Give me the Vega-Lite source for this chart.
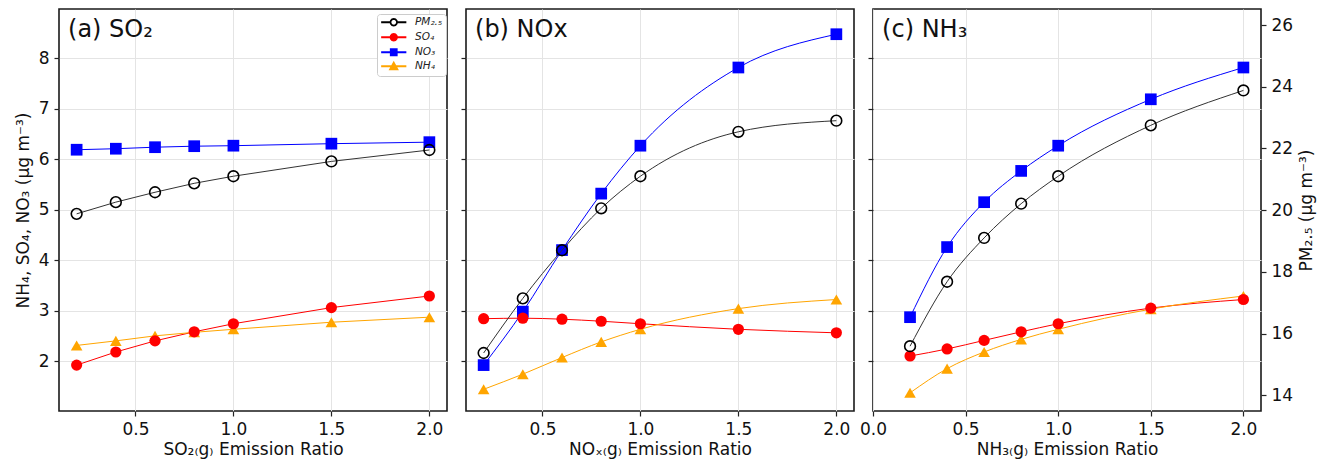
{
  "$schema": "https://vega.github.io/schema/vega-lite/v6.json",
  "autosize": {"type": "pad"},
  "padding": {"left": 13, "top": 8, "right": 2, "bottom": 2},
  "config": {
    "font": "DejaVu Sans",
    "view": {"stroke": "#1a1a1a", "strokeWidth": 1.6},
    "axis": {
      "labelFont": "DejaVu Sans", "labelFontSize": 17, "labelColor": "#111111",
      "titleFont": "DejaVu Sans", "titleFontSize": 17, "titleFontWeight": "normal", "titleColor": "#111111",
      "tickColor": "#222222", "tickSize": 5, "tickWidth": 1.2, "domain": false,
      "gridColor": "#e4e4e4", "gridWidth": 1, "labelPadding": 5, "labelFlush": false, "labelOverlap": false
    },
    "axisLeft": {"titlePadding": 6}
  },
  "datasets": {
    "rows": [
      {"case": "SO2", "ratio": 0.2, "species": "PM2.5", "value": 19.88},
      {"case": "SO2", "ratio": 0.4, "species": "PM2.5", "value": 20.26},
      {"case": "SO2", "ratio": 0.6, "species": "PM2.5", "value": 20.58},
      {"case": "SO2", "ratio": 0.8, "species": "PM2.5", "value": 20.87},
      {"case": "SO2", "ratio": 1.0, "species": "PM2.5", "value": 21.10},
      {"case": "SO2", "ratio": 1.5, "species": "PM2.5", "value": 21.58},
      {"case": "SO2", "ratio": 2.0, "species": "PM2.5", "value": 21.95},
      {"case": "SO2", "ratio": 0.2, "species": "SO4", "value": 1.92},
      {"case": "SO2", "ratio": 0.4, "species": "SO4", "value": 2.18},
      {"case": "SO2", "ratio": 0.6, "species": "SO4", "value": 2.40},
      {"case": "SO2", "ratio": 0.8, "species": "SO4", "value": 2.58},
      {"case": "SO2", "ratio": 1.0, "species": "SO4", "value": 2.74},
      {"case": "SO2", "ratio": 1.5, "species": "SO4", "value": 3.06},
      {"case": "SO2", "ratio": 2.0, "species": "SO4", "value": 3.29},
      {"case": "SO2", "ratio": 0.2, "species": "NO3", "value": 6.19},
      {"case": "SO2", "ratio": 0.4, "species": "NO3", "value": 6.21},
      {"case": "SO2", "ratio": 0.6, "species": "NO3", "value": 6.24},
      {"case": "SO2", "ratio": 0.8, "species": "NO3", "value": 6.26},
      {"case": "SO2", "ratio": 1.0, "species": "NO3", "value": 6.27},
      {"case": "SO2", "ratio": 1.5, "species": "NO3", "value": 6.31},
      {"case": "SO2", "ratio": 2.0, "species": "NO3", "value": 6.34},
      {"case": "SO2", "ratio": 0.2, "species": "NH4", "value": 2.31},
      {"case": "SO2", "ratio": 0.4, "species": "NH4", "value": 2.40},
      {"case": "SO2", "ratio": 0.6, "species": "NH4", "value": 2.50},
      {"case": "SO2", "ratio": 0.8, "species": "NH4", "value": 2.57},
      {"case": "SO2", "ratio": 1.0, "species": "NH4", "value": 2.63},
      {"case": "SO2", "ratio": 1.5, "species": "NH4", "value": 2.77},
      {"case": "SO2", "ratio": 2.0, "species": "NH4", "value": 2.87},
      {"case": "NOx", "ratio": 0.2, "species": "PM2.5", "value": 15.37},
      {"case": "NOx", "ratio": 0.4, "species": "PM2.5", "value": 17.14},
      {"case": "NOx", "ratio": 0.6, "species": "PM2.5", "value": 18.70},
      {"case": "NOx", "ratio": 0.8, "species": "PM2.5", "value": 20.06},
      {"case": "NOx", "ratio": 1.0, "species": "PM2.5", "value": 21.10},
      {"case": "NOx", "ratio": 1.5, "species": "PM2.5", "value": 22.54},
      {"case": "NOx", "ratio": 2.0, "species": "PM2.5", "value": 22.90},
      {"case": "NOx", "ratio": 0.2, "species": "SO4", "value": 2.84},
      {"case": "NOx", "ratio": 0.4, "species": "SO4", "value": 2.85},
      {"case": "NOx", "ratio": 0.6, "species": "SO4", "value": 2.83},
      {"case": "NOx", "ratio": 0.8, "species": "SO4", "value": 2.79},
      {"case": "NOx", "ratio": 1.0, "species": "SO4", "value": 2.74},
      {"case": "NOx", "ratio": 1.5, "species": "SO4", "value": 2.63},
      {"case": "NOx", "ratio": 2.0, "species": "SO4", "value": 2.56},
      {"case": "NOx", "ratio": 0.2, "species": "NO3", "value": 1.92},
      {"case": "NOx", "ratio": 0.4, "species": "NO3", "value": 2.98},
      {"case": "NOx", "ratio": 0.6, "species": "NO3", "value": 4.20},
      {"case": "NOx", "ratio": 0.8, "species": "NO3", "value": 5.32},
      {"case": "NOx", "ratio": 1.0, "species": "NO3", "value": 6.27},
      {"case": "NOx", "ratio": 1.5, "species": "NO3", "value": 7.82},
      {"case": "NOx", "ratio": 2.0, "species": "NO3", "value": 8.48},
      {"case": "NOx", "ratio": 0.2, "species": "NH4", "value": 1.44},
      {"case": "NOx", "ratio": 0.4, "species": "NH4", "value": 1.74},
      {"case": "NOx", "ratio": 0.6, "species": "NH4", "value": 2.07},
      {"case": "NOx", "ratio": 0.8, "species": "NH4", "value": 2.38},
      {"case": "NOx", "ratio": 1.0, "species": "NH4", "value": 2.63},
      {"case": "NOx", "ratio": 1.5, "species": "NH4", "value": 3.04},
      {"case": "NOx", "ratio": 2.0, "species": "NH4", "value": 3.22},
      {"case": "NH3", "ratio": 0.2, "species": "PM2.5", "value": 15.59},
      {"case": "NH3", "ratio": 0.4, "species": "PM2.5", "value": 17.68},
      {"case": "NH3", "ratio": 0.6, "species": "PM2.5", "value": 19.10},
      {"case": "NH3", "ratio": 0.8, "species": "PM2.5", "value": 20.21},
      {"case": "NH3", "ratio": 1.0, "species": "PM2.5", "value": 21.10},
      {"case": "NH3", "ratio": 1.5, "species": "PM2.5", "value": 22.75},
      {"case": "NH3", "ratio": 2.0, "species": "PM2.5", "value": 23.88},
      {"case": "NH3", "ratio": 0.2, "species": "SO4", "value": 2.10},
      {"case": "NH3", "ratio": 0.4, "species": "SO4", "value": 2.24},
      {"case": "NH3", "ratio": 0.6, "species": "SO4", "value": 2.41},
      {"case": "NH3", "ratio": 0.8, "species": "SO4", "value": 2.58},
      {"case": "NH3", "ratio": 1.0, "species": "SO4", "value": 2.74},
      {"case": "NH3", "ratio": 1.5, "species": "SO4", "value": 3.05},
      {"case": "NH3", "ratio": 2.0, "species": "SO4", "value": 3.22},
      {"case": "NH3", "ratio": 0.2, "species": "NO3", "value": 2.87},
      {"case": "NH3", "ratio": 0.4, "species": "NO3", "value": 4.26},
      {"case": "NH3", "ratio": 0.6, "species": "NO3", "value": 5.15},
      {"case": "NH3", "ratio": 0.8, "species": "NO3", "value": 5.77},
      {"case": "NH3", "ratio": 1.0, "species": "NO3", "value": 6.27},
      {"case": "NH3", "ratio": 1.5, "species": "NO3", "value": 7.19},
      {"case": "NH3", "ratio": 2.0, "species": "NO3", "value": 7.82},
      {"case": "NH3", "ratio": 0.2, "species": "NH4", "value": 1.37},
      {"case": "NH3", "ratio": 0.4, "species": "NH4", "value": 1.85},
      {"case": "NH3", "ratio": 0.6, "species": "NH4", "value": 2.18},
      {"case": "NH3", "ratio": 0.8, "species": "NH4", "value": 2.43},
      {"case": "NH3", "ratio": 1.0, "species": "NH4", "value": 2.63},
      {"case": "NH3", "ratio": 1.5, "species": "NH4", "value": 3.03},
      {"case": "NH3", "ratio": 2.0, "species": "NH4", "value": 3.29}
    ]
  },
  "data": {"name": "rows"},
  "bounds": "flush",
  "spacing": 19,
  "resolve": {
    "scale": {"color": "independent", "shape": "independent", "fill": "independent", "stroke": "independent"},
    "legend": {"color": "independent", "shape": "independent", "fill": "independent", "stroke": "independent"}
  },
  "hconcat": [
    {
      "width": 388, "height": 402,
      "transform": [{"filter": "datum.case == 'SO2'"}],
      "layer": [
        {
          "layer": [
            {
              "mark": {"type": "line", "strokeWidth": 1, "interpolate": "linear"},
              "transform": [{"filter": "datum.species != 'PM2.5'"}],
              "encoding": {
                "x": {"field": "ratio", "type": "quantitative", "scale": {"domain": [0.11, 2.09], "nice": false, "zero": false}, "axis": {"values": [0.5, 1, 1.5, 2], "format": ".1f", "title": "SO₂₍g₎ Emission Ratio", "grid": true}},
                "y": {"field": "value", "type": "quantitative", "scale": {"domain": [1.01, 8.98], "nice": false, "zero": false}, "axis": {"orient": "left", "values": [2, 3, 4, 5, 6, 7, 8], "title": "NH₄, SO₄, NO₃ (μg m⁻³)", "grid": true}},
                "color": {"field": "species", "type": "nominal", "scale": {"domain": ["SO4", "NO3", "NH4", "PM2.5"], "range": ["#ff0000", "#0000ff", "#ffa500", "#333333"]}, "legend": null}
              }
            },
            {
              "mark": {"type": "point", "shape": "triangle-up", "filled": true, "color": "#ffa500", "size": 135, "opacity": 1},
              "transform": [{"filter": "datum.species == 'NH4'"}],
              "encoding": {
                "x": {"field": "ratio", "type": "quantitative", "scale": {"domain": [0.11, 2.09], "nice": false, "zero": false}, "axis": {"values": [0.5, 1, 1.5, 2], "format": ".1f", "title": "SO₂₍g₎ Emission Ratio", "grid": true}},
                "y": {"field": "value", "type": "quantitative", "scale": {"domain": [1.01, 8.98], "nice": false, "zero": false}, "axis": {"orient": "left", "values": [2, 3, 4, 5, 6, 7, 8], "title": "NH₄, SO₄, NO₃ (μg m⁻³)", "grid": true}}
              }
            },
            {
              "mark": {"type": "point", "shape": "square", "filled": true, "color": "#0000ff", "size": 137, "opacity": 1},
              "transform": [{"filter": "datum.species == 'NO3'"}],
              "encoding": {
                "x": {"field": "ratio", "type": "quantitative", "scale": {"domain": [0.11, 2.09], "nice": false, "zero": false}, "axis": {"values": [0.5, 1, 1.5, 2], "format": ".1f", "title": "SO₂₍g₎ Emission Ratio", "grid": true}},
                "y": {"field": "value", "type": "quantitative", "scale": {"domain": [1.01, 8.98], "nice": false, "zero": false}, "axis": {"orient": "left", "values": [2, 3, 4, 5, 6, 7, 8], "title": "NH₄, SO₄, NO₃ (μg m⁻³)", "grid": true}}
              }
            },
            {
              "mark": {"type": "point", "shape": "circle", "filled": true, "color": "#ff0000", "size": 125, "opacity": 1},
              "transform": [{"filter": "datum.species == 'SO4'"}],
              "encoding": {
                "x": {"field": "ratio", "type": "quantitative", "scale": {"domain": [0.11, 2.09], "nice": false, "zero": false}, "axis": {"values": [0.5, 1, 1.5, 2], "format": ".1f", "title": "SO₂₍g₎ Emission Ratio", "grid": true}},
                "y": {"field": "value", "type": "quantitative", "scale": {"domain": [1.01, 8.98], "nice": false, "zero": false}, "axis": {"orient": "left", "values": [2, 3, 4, 5, 6, 7, 8], "title": "NH₄, SO₄, NO₃ (μg m⁻³)", "grid": true}}
              }
            },
            {
              "data": {"values": [{"label": "(a) SO₂"}]},
              "mark": {"type": "text", "align": "left", "baseline": "middle", "fontSize": 24, "color": "#111111"},
              "encoding": {
                "x": {"datum": 0.156, "type": "quantitative", "scale": {"domain": [0.11, 2.09], "nice": false, "zero": false}, "axis": {"values": [0.5, 1, 1.5, 2], "format": ".1f", "title": "SO₂₍g₎ Emission Ratio", "grid": true}},
                "y": {"datum": 8.56, "type": "quantitative", "scale": {"domain": [1.01, 8.98], "nice": false, "zero": false}, "axis": {"orient": "left", "values": [2, 3, 4, 5, 6, 7, 8], "title": "NH₄, SO₄, NO₃ (μg m⁻³)", "grid": true}},
                "text": {"field": "label"}
              }
            },
            {
              "mark": {"type": "point", "filled": true, "opacity": 0, "size": 44},
              "transform": [{"filter": "datum.ratio == 1 && datum.species != 'PM2.5'"}],
              "encoding": {
                "x": {"field": "ratio", "type": "quantitative", "scale": {"domain": [0.11, 2.09], "nice": false, "zero": false}, "axis": {"values": [0.5, 1, 1.5, 2], "format": ".1f", "title": "SO₂₍g₎ Emission Ratio", "grid": true}},
                "y": {"field": "value", "type": "quantitative", "scale": {"domain": [1.01, 8.98], "nice": false, "zero": false}, "axis": {"orient": "left", "values": [2, 3, 4, 5, 6, 7, 8], "title": "NH₄, SO₄, NO₃ (μg m⁻³)", "grid": true}},
                "shape": {
                  "field": "species", "type": "nominal",
                  "scale": {"domain": ["PM2.5", "SO4", "NO3", "NH4"], "range": [
                    "M-3.8,0H-1M1,0H3.8M1,0L0.866,0.5L0.5,0.866L0,1L-0.5,0.866L-0.866,0.5L-1,0L-0.866,-0.5L-0.5,-0.866L0,-1L0.5,-0.866L0.866,-0.5Z",
                    "M-3.8,0H3.8M1,0L0.866,0.5L0.5,0.866L0,1L-0.5,0.866L-0.866,0.5L-1,0L-0.866,-0.5L-0.5,-0.866L0,-1L0.5,-0.866L0.866,-0.5Z",
                    "M-3.8,0H3.8M-0.9,-0.9H0.9V0.9H-0.9Z",
                    "M-3.8,0H3.8M0,-1.1L1.1,0.9H-1.1Z"
                  ]},
                  "legend": {"title": null, "orient": "none", "legendX": 318, "legendY": 5, "symbolSize": 44, "symbolStrokeWidth": 1.8, "symbolOpacity": 1, "symbolOffset": 8.5, "labelOffset": 16, "labelFontSize": 10.5, "labelFontStyle": "italic", "labelColor": "#222222", "rowPadding": 0, "padding": 3, "strokeColor": "#cccccc", "fillColor": "#ffffff", "cornerRadius": 3, "labelExpr": "datum.label == 'PM2.5' ? 'PM₂.₅' : datum.label == 'SO4' ? 'SO₄' : datum.label == 'NO3' ? 'NO₃' : 'NH₄'"}
                },
                "fill": {
                  "field": "species", "type": "nominal",
                  "scale": {"domain": ["PM2.5", "SO4", "NO3", "NH4"], "range": ["#ffffff", "#ff0000", "#0000ff", "#ffa500"]},
                  "legend": {"title": null, "orient": "none", "legendX": 318, "legendY": 5, "symbolSize": 44, "symbolStrokeWidth": 1.8, "symbolOpacity": 1, "symbolOffset": 8.5, "labelOffset": 16, "labelFontSize": 10.5, "labelFontStyle": "italic", "labelColor": "#222222", "rowPadding": 0, "padding": 3, "strokeColor": "#cccccc", "fillColor": "#ffffff", "cornerRadius": 3, "labelExpr": "datum.label == 'PM2.5' ? 'PM₂.₅' : datum.label == 'SO4' ? 'SO₄' : datum.label == 'NO3' ? 'NO₃' : 'NH₄'"}
                },
                "stroke": {
                  "field": "species", "type": "nominal",
                  "scale": {"domain": ["PM2.5", "SO4", "NO3", "NH4"], "range": ["#000000", "#ff0000", "#0000ff", "#ffa500"]},
                  "legend": {"title": null, "orient": "none", "legendX": 318, "legendY": 5, "symbolSize": 44, "symbolStrokeWidth": 1.8, "symbolOpacity": 1, "symbolOffset": 8.5, "labelOffset": 16, "labelFontSize": 10.5, "labelFontStyle": "italic", "labelColor": "#222222", "rowPadding": 0, "padding": 3, "strokeColor": "#cccccc", "fillColor": "#ffffff", "cornerRadius": 3, "labelExpr": "datum.label == 'PM2.5' ? 'PM₂.₅' : datum.label == 'SO4' ? 'SO₄' : datum.label == 'NO3' ? 'NO₃' : 'NH₄'"}
                }
              }
            }
          ]
        },
        {
          "transform": [{"filter": "datum.species == 'PM2.5'"}],
          "layer": [
            {
              "mark": {"type": "line", "strokeWidth": 1, "interpolate": "linear"},
              "encoding": {
                "x": {"field": "ratio", "type": "quantitative", "scale": {"domain": [0.11, 2.09], "nice": false, "zero": false}, "axis": {"values": [0.5, 1, 1.5, 2], "format": ".1f", "title": "SO₂₍g₎ Emission Ratio", "grid": true}},
                "y": {"field": "value", "type": "quantitative", "scale": {"domain": [13.49, 26.52], "nice": false, "zero": false}, "axis": null},
                "color": {"field": "species", "type": "nominal", "scale": {"domain": ["SO4", "NO3", "NH4", "PM2.5"], "range": ["#ff0000", "#0000ff", "#ffa500", "#333333"]}, "legend": null}
              }
            },
            {
              "mark": {"type": "point", "shape": "circle", "filled": false, "color": "#000000", "strokeWidth": 1.6, "size": 115, "opacity": 1},
              "encoding": {
                "x": {"field": "ratio", "type": "quantitative", "scale": {"domain": [0.11, 2.09], "nice": false, "zero": false}, "axis": {"values": [0.5, 1, 1.5, 2], "format": ".1f", "title": "SO₂₍g₎ Emission Ratio", "grid": true}},
                "y": {"field": "value", "type": "quantitative", "scale": {"domain": [13.49, 26.52], "nice": false, "zero": false}, "axis": null}
              }
            }
          ]
        }
      ],
      "resolve": {"scale": {"y": "independent"}}
    },
    {
      "width": 388, "height": 402,
      "transform": [{"filter": "datum.case == 'NOx'"}],
      "layer": [
        {
          "layer": [
            {
              "mark": {"type": "line", "strokeWidth": 1, "interpolate": "monotone"},
              "transform": [{"filter": "datum.species != 'PM2.5'"}],
              "encoding": {
                "x": {"field": "ratio", "type": "quantitative", "scale": {"domain": [0.11, 2.09], "nice": false, "zero": false}, "axis": {"values": [0.5, 1, 1.5, 2], "format": ".1f", "title": "NOₓ₍g₎ Emission Ratio", "grid": true}},
                "y": {"field": "value", "type": "quantitative", "scale": {"domain": [1.01, 8.98], "nice": false, "zero": false}, "axis": {"orient": "left", "values": [2, 3, 4, 5, 6, 7, 8], "labels": false, "title": null, "grid": true}},
                "color": {"field": "species", "type": "nominal", "scale": {"domain": ["SO4", "NO3", "NH4", "PM2.5"], "range": ["#ff0000", "#0000ff", "#ffa500", "#333333"]}, "legend": null}
              }
            },
            {
              "mark": {"type": "point", "shape": "triangle-up", "filled": true, "color": "#ffa500", "size": 135, "opacity": 1},
              "transform": [{"filter": "datum.species == 'NH4'"}],
              "encoding": {
                "x": {"field": "ratio", "type": "quantitative", "scale": {"domain": [0.11, 2.09], "nice": false, "zero": false}, "axis": {"values": [0.5, 1, 1.5, 2], "format": ".1f", "title": "NOₓ₍g₎ Emission Ratio", "grid": true}},
                "y": {"field": "value", "type": "quantitative", "scale": {"domain": [1.01, 8.98], "nice": false, "zero": false}, "axis": {"orient": "left", "values": [2, 3, 4, 5, 6, 7, 8], "labels": false, "title": null, "grid": true}}
              }
            },
            {
              "mark": {"type": "point", "shape": "square", "filled": true, "color": "#0000ff", "size": 137, "opacity": 1},
              "transform": [{"filter": "datum.species == 'NO3'"}],
              "encoding": {
                "x": {"field": "ratio", "type": "quantitative", "scale": {"domain": [0.11, 2.09], "nice": false, "zero": false}, "axis": {"values": [0.5, 1, 1.5, 2], "format": ".1f", "title": "NOₓ₍g₎ Emission Ratio", "grid": true}},
                "y": {"field": "value", "type": "quantitative", "scale": {"domain": [1.01, 8.98], "nice": false, "zero": false}, "axis": {"orient": "left", "values": [2, 3, 4, 5, 6, 7, 8], "labels": false, "title": null, "grid": true}}
              }
            },
            {
              "mark": {"type": "point", "shape": "circle", "filled": true, "color": "#ff0000", "size": 125, "opacity": 1},
              "transform": [{"filter": "datum.species == 'SO4'"}],
              "encoding": {
                "x": {"field": "ratio", "type": "quantitative", "scale": {"domain": [0.11, 2.09], "nice": false, "zero": false}, "axis": {"values": [0.5, 1, 1.5, 2], "format": ".1f", "title": "NOₓ₍g₎ Emission Ratio", "grid": true}},
                "y": {"field": "value", "type": "quantitative", "scale": {"domain": [1.01, 8.98], "nice": false, "zero": false}, "axis": {"orient": "left", "values": [2, 3, 4, 5, 6, 7, 8], "labels": false, "title": null, "grid": true}}
              }
            },
            {
              "data": {"values": [{"label": "(b) NOx"}]},
              "mark": {"type": "text", "align": "left", "baseline": "middle", "fontSize": 24, "color": "#111111"},
              "encoding": {
                "x": {"datum": 0.156, "type": "quantitative", "scale": {"domain": [0.11, 2.09], "nice": false, "zero": false}, "axis": {"values": [0.5, 1, 1.5, 2], "format": ".1f", "title": "NOₓ₍g₎ Emission Ratio", "grid": true}},
                "y": {"datum": 8.56, "type": "quantitative", "scale": {"domain": [1.01, 8.98], "nice": false, "zero": false}, "axis": {"orient": "left", "values": [2, 3, 4, 5, 6, 7, 8], "labels": false, "title": null, "grid": true}},
                "text": {"field": "label"}
              }
            }
          ]
        },
        {
          "transform": [{"filter": "datum.species == 'PM2.5'"}],
          "layer": [
            {
              "mark": {"type": "line", "strokeWidth": 1, "interpolate": "monotone"},
              "encoding": {
                "x": {"field": "ratio", "type": "quantitative", "scale": {"domain": [0.11, 2.09], "nice": false, "zero": false}, "axis": {"values": [0.5, 1, 1.5, 2], "format": ".1f", "title": "NOₓ₍g₎ Emission Ratio", "grid": true}},
                "y": {"field": "value", "type": "quantitative", "scale": {"domain": [13.49, 26.52], "nice": false, "zero": false}, "axis": null},
                "color": {"field": "species", "type": "nominal", "scale": {"domain": ["SO4", "NO3", "NH4", "PM2.5"], "range": ["#ff0000", "#0000ff", "#ffa500", "#333333"]}, "legend": null}
              }
            },
            {
              "mark": {"type": "point", "shape": "circle", "filled": false, "color": "#000000", "strokeWidth": 1.6, "size": 115, "opacity": 1},
              "encoding": {
                "x": {"field": "ratio", "type": "quantitative", "scale": {"domain": [0.11, 2.09], "nice": false, "zero": false}, "axis": {"values": [0.5, 1, 1.5, 2], "format": ".1f", "title": "NOₓ₍g₎ Emission Ratio", "grid": true}},
                "y": {"field": "value", "type": "quantitative", "scale": {"domain": [13.49, 26.52], "nice": false, "zero": false}, "axis": null}
              }
            }
          ]
        }
      ],
      "resolve": {"scale": {"y": "independent"}}
    },
    {
      "width": 388, "height": 402,
      "transform": [{"filter": "datum.case == 'NH3'"}],
      "layer": [
        {
          "layer": [
            {
              "mark": {"type": "line", "strokeWidth": 1, "interpolate": "monotone"},
              "transform": [{"filter": "datum.species != 'PM2.5'"}],
              "encoding": {
                "x": {"field": "ratio", "type": "quantitative", "scale": {"domain": [0, 2.095], "nice": false, "zero": false}, "axis": {"values": [0, 0.5, 1, 1.5, 2], "format": ".1f", "title": "NH₃₍g₎ Emission Ratio", "grid": true}},
                "y": {"field": "value", "type": "quantitative", "scale": {"domain": [1.01, 8.98], "nice": false, "zero": false}, "axis": {"orient": "left", "values": [2, 3, 4, 5, 6, 7, 8], "labels": false, "title": null, "grid": true}},
                "color": {"field": "species", "type": "nominal", "scale": {"domain": ["SO4", "NO3", "NH4", "PM2.5"], "range": ["#ff0000", "#0000ff", "#ffa500", "#333333"]}, "legend": null}
              }
            },
            {
              "mark": {"type": "point", "shape": "triangle-up", "filled": true, "color": "#ffa500", "size": 135, "opacity": 1},
              "transform": [{"filter": "datum.species == 'NH4'"}],
              "encoding": {
                "x": {"field": "ratio", "type": "quantitative", "scale": {"domain": [0, 2.095], "nice": false, "zero": false}, "axis": {"values": [0, 0.5, 1, 1.5, 2], "format": ".1f", "title": "NH₃₍g₎ Emission Ratio", "grid": true}},
                "y": {"field": "value", "type": "quantitative", "scale": {"domain": [1.01, 8.98], "nice": false, "zero": false}, "axis": {"orient": "left", "values": [2, 3, 4, 5, 6, 7, 8], "labels": false, "title": null, "grid": true}}
              }
            },
            {
              "mark": {"type": "point", "shape": "square", "filled": true, "color": "#0000ff", "size": 137, "opacity": 1},
              "transform": [{"filter": "datum.species == 'NO3'"}],
              "encoding": {
                "x": {"field": "ratio", "type": "quantitative", "scale": {"domain": [0, 2.095], "nice": false, "zero": false}, "axis": {"values": [0, 0.5, 1, 1.5, 2], "format": ".1f", "title": "NH₃₍g₎ Emission Ratio", "grid": true}},
                "y": {"field": "value", "type": "quantitative", "scale": {"domain": [1.01, 8.98], "nice": false, "zero": false}, "axis": {"orient": "left", "values": [2, 3, 4, 5, 6, 7, 8], "labels": false, "title": null, "grid": true}}
              }
            },
            {
              "mark": {"type": "point", "shape": "circle", "filled": true, "color": "#ff0000", "size": 125, "opacity": 1},
              "transform": [{"filter": "datum.species == 'SO4'"}],
              "encoding": {
                "x": {"field": "ratio", "type": "quantitative", "scale": {"domain": [0, 2.095], "nice": false, "zero": false}, "axis": {"values": [0, 0.5, 1, 1.5, 2], "format": ".1f", "title": "NH₃₍g₎ Emission Ratio", "grid": true}},
                "y": {"field": "value", "type": "quantitative", "scale": {"domain": [1.01, 8.98], "nice": false, "zero": false}, "axis": {"orient": "left", "values": [2, 3, 4, 5, 6, 7, 8], "labels": false, "title": null, "grid": true}}
              }
            },
            {
              "data": {"values": [{"label": "(c) NH₃"}]},
              "mark": {"type": "text", "align": "left", "baseline": "middle", "fontSize": 24, "color": "#111111"},
              "encoding": {
                "x": {"datum": 0.049, "type": "quantitative", "scale": {"domain": [0, 2.095], "nice": false, "zero": false}, "axis": {"values": [0, 0.5, 1, 1.5, 2], "format": ".1f", "title": "NH₃₍g₎ Emission Ratio", "grid": true}},
                "y": {"datum": 8.56, "type": "quantitative", "scale": {"domain": [1.01, 8.98], "nice": false, "zero": false}, "axis": {"orient": "left", "values": [2, 3, 4, 5, 6, 7, 8], "labels": false, "title": null, "grid": true}},
                "text": {"field": "label"}
              }
            }
          ]
        },
        {
          "transform": [{"filter": "datum.species == 'PM2.5'"}],
          "layer": [
            {
              "mark": {"type": "line", "strokeWidth": 1, "interpolate": "monotone"},
              "encoding": {
                "x": {"field": "ratio", "type": "quantitative", "scale": {"domain": [0, 2.095], "nice": false, "zero": false}, "axis": {"values": [0, 0.5, 1, 1.5, 2], "format": ".1f", "title": "NH₃₍g₎ Emission Ratio", "grid": true}},
                "y": {"field": "value", "type": "quantitative", "scale": {"domain": [13.49, 26.52], "nice": false, "zero": false}, "axis": {"orient": "right", "values": [14, 16, 18, 20, 22, 24, 26], "title": "PM₂.₅ (μg m⁻³)", "titleAngle": 270, "titleBaseline": "top", "titlePadding": 6, "grid": false}},
                "color": {"field": "species", "type": "nominal", "scale": {"domain": ["SO4", "NO3", "NH4", "PM2.5"], "range": ["#ff0000", "#0000ff", "#ffa500", "#333333"]}, "legend": null}
              }
            },
            {
              "mark": {"type": "point", "shape": "circle", "filled": false, "color": "#000000", "strokeWidth": 1.6, "size": 115, "opacity": 1},
              "encoding": {
                "x": {"field": "ratio", "type": "quantitative", "scale": {"domain": [0, 2.095], "nice": false, "zero": false}, "axis": {"values": [0, 0.5, 1, 1.5, 2], "format": ".1f", "title": "NH₃₍g₎ Emission Ratio", "grid": true}},
                "y": {"field": "value", "type": "quantitative", "scale": {"domain": [13.49, 26.52], "nice": false, "zero": false}, "axis": {"orient": "right", "values": [14, 16, 18, 20, 22, 24, 26], "title": "PM₂.₅ (μg m⁻³)", "titleAngle": 270, "titleBaseline": "top", "titlePadding": 6, "grid": false}}
              }
            }
          ]
        }
      ],
      "resolve": {"scale": {"y": "independent"}}
    }
  ]
}
